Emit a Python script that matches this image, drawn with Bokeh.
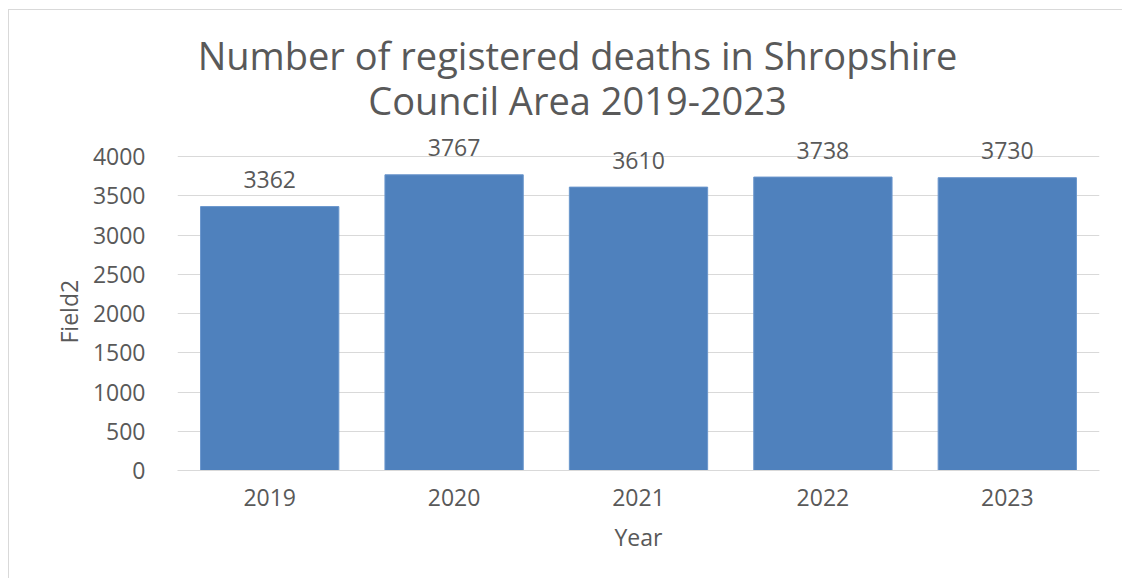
from bokeh.plotting import figure
from bokeh.models import ColumnDataSource, LabelSet, Label, FixedTicker, Range1d, FactorRange, Title
from bokeh.core.properties import value
from bokeh.embed import file_html
from bokeh.resources import INLINE

years = ["2019", "2020", "2021", "2022", "2023"]
deaths = [3362, 3767, 3610, 3738, 3730]
title_lines = ["Number of registered deaths in Shropshire", "Council Area 2019-2023"]
y_ticks = [0, 500, 1000, 1500, 2000, 2500, 3000, 3500, 4000]
x_title = "Year"
y_title = "Field2"

FONT = "Open Sans"
TXT = "#595959"
GRID = "#d9d9d9"

# geometry (canvas pixels)
W, H = 1114, 569
FRAME_BOTTOM = 460          # canvas y of value 0
PX_PER_UNIT = 314 / 4000.0  # pixels per unit on the value axis
Y_END = FRAME_BOTTOM / PX_PER_UNIT  # frame reaches canvas top so labels are not clipped

src = ColumnDataSource(dict(year=years, deaths=deaths, label=[str(v) for v in deaths]))

p = figure(width=W, height=H, x_range=FactorRange(*years, range_padding=0),
           y_range=Range1d(0, Y_END), output_backend="svg", toolbar_location=None,
           min_border_left=168, min_border_right=24, min_border_top=0,
           min_border_bottom=H - FRAME_BOTTOM, margin=(9, 0, 0, 8))
p.styles = {"border-top": "1px solid #d9d9d9", "border-left": "1px solid #d9d9d9"}
p.outline_line_color = None
p.background_fill_color = "white"
p.border_fill_color = "white"

p.vbar(x="year", top="deaths", width=0.75, source=src, fill_color="#4f81bd",
       line_color="#6a96cc", line_width=1)

labels = LabelSet(x="year", y="deaths", text="label", source=src, y_offset=27,
                  text_align="center", text_baseline="middle", text_font=value(FONT),
                  text_font_size=value("23px"), text_color=value(TXT))
p.add_layout(labels)

# chart title (two lines)
for line, ypx in zip(title_lines, [53 - 9, 98 - 9]):
    p.add_layout(Label(x=(576 - 176) / 184.4, y=(FRAME_BOTTOM - ypx) / PX_PER_UNIT, text=line,
                       text_align="center", text_baseline="middle", text_font=FONT,
                       text_font_size="38px", text_color=TXT))

p.yaxis.ticker = FixedTicker(ticks=y_ticks)
p.ygrid.ticker = FixedTicker(ticks=y_ticks)
p.ygrid.grid_line_color = GRID
p.xgrid.grid_line_color = None

for ax in (p.xaxis[0], p.yaxis[0]):
    ax.major_tick_line_color = None
    ax.minor_tick_line_color = None
    ax.major_label_text_font = FONT
    ax.major_label_text_font_size = "23px"
    ax.major_label_text_color = TXT
    ax.axis_label_text_font = FONT
    ax.axis_label_text_font_size = "23px"
    ax.axis_label_text_color = TXT
    ax.axis_label_text_font_style = "normal"

p.yaxis.axis_line_color = None
p.xaxis.axis_line_color = GRID
p.yaxis.major_label_standoff = 26
p.xaxis.major_label_standoff = 12
p.xaxis.axis_label = x_title
p.xaxis.axis_label_standoff = 12

# value-axis title, placed along the 0-4000 span (frame extends higher)
p.add_layout(Title(text=y_title, align="left", offset=127, standoff=10,
                   text_font=FONT, text_font_size="23px", text_color=TXT,
                   text_font_style="normal"), "left")

open("out.html", "w").write(file_html(p, INLINE))
